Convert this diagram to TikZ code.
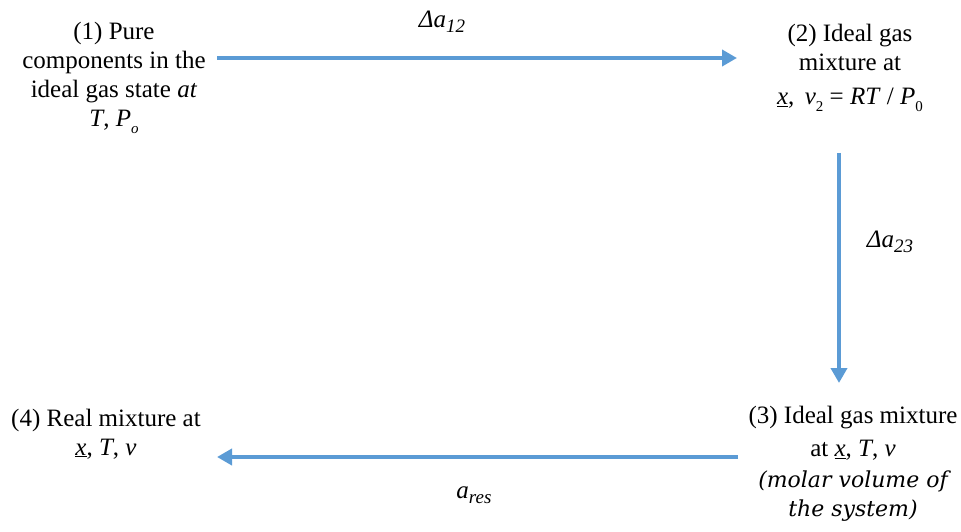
\documentclass[tikz,border=0pt]{standalone}
\usepackage{fontspec}
\setmainfont{LiberationSerif}[Extension=.ttf, UprightFont=*-Regular, ItalicFont=*-Italic, BoldFont=*-Bold, BoldItalicFont=*-BoldItalic]
\newfontfamily\labelfont{DejaVu Serif}
\usetikzlibrary{arrows.meta}
\definecolor{arrowblue}{HTML}{5B9BD5}
\newcommand{\ux}{\underline{\textit{x}}}
\newcommand{\lowsub}[1]{\raisebox{-0.3em}{\fontsize{15}{15}\selectfont #1}}
\newcommand{\labsub}[1]{\raisebox{-0.2em}{\fontsize{19}{19}\selectfont #1}}
\newcommand{\notefont}{\labelfont\itshape\fontsize{22}{30}\selectfont}
\begin{document}
\begin{tikzpicture}[x=1pt,y=-1pt,
  state/.style={inner sep=0pt, align=center, font=\fontsize{25}{29}\selectfont},
  flowarrow/.style={draw=arrowblue, line width=4pt, -{Triangle[length=15pt,width=16pt]}},
  steplabel/.style={inner sep=0pt, font=\fontsize{25}{28}\selectfont\itshape}]
\useasboundingbox (0,0) rectangle (961,532);
% states
\node[state] (s1) at (114,78) {(1) Pure\\components in the\\ideal gas state \textit{at}\\\textit{T}, \textit{P\lowsub{o}}};
\node[state] (s2) at (850,68) {(2) Ideal gas\\mixture at\\[5pt]\ux,\, \textit{v}\lowsub{2} = \textit{RT} / \textit{P}\lowsub{0}};
\node[state] (s3) at (853,464) {(3) Ideal gas mixture\\[4pt]at \ux, \textit{T}, \textit{v}\\[2pt]{\notefont (molar volume of}\\{\notefont the system)}};
\node[state] (s4) at (106,434) {(4) Real mixture at\\\ux, \textit{T}, \textit{v}};
% arrow end points
\coordinate (a12s) at (217,58);
\coordinate (a12e) at (737,58);
\coordinate (a23s) at (839,153);
\coordinate (a23e) at (839,383);
\coordinate (a34s) at (738,457);
\coordinate (a34e) at (217,457);
\draw[flowarrow] (a12s) -- (a12e);
\draw[flowarrow] (a23s) -- (a23e);
\draw[flowarrow] (a34s) -- (a34e);
% labels
\node[steplabel] (l12) at (442,22) {Δa\labsub{12}};
\node[steplabel] (l23) at (890,242) {Δa\labsub{23}};
\node[steplabel] (l34) at (474,495) {a\labsub{res}};
\end{tikzpicture}
\end{document}
